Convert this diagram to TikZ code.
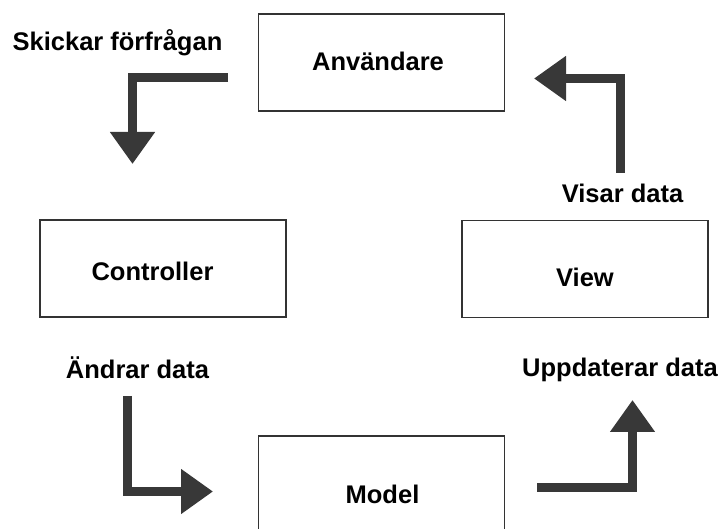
\documentclass[tikz,border=0pt]{standalone}
\usepackage{fontspec}
\setmainfont{Liberation Sans}
\usepackage{tikz}
\usetikzlibrary{arrows.meta}

\tikzset{
    box/.style={draw=black!80, line width=1.5pt, minimum width=246pt, minimum height=97pt, inner sep=0pt},
    flow/.style={draw=black!78, line width=9pt, line join=miter, -{Triangle[length=32pt,width=43pt]}},
    lbl/.style={anchor=base, inner sep=0pt}
}

\begin{document}
\begin{tikzpicture}[x=1pt,y=1pt,font=\fontsize{25.5}{30}\selectfont\bfseries]
    \useasboundingbox (0,0) rectangle (726,528);
    \clip (0,0) rectangle (726,528);

    % the four parts
    \node[box] (anv) at (381.5,465.5) {};
    \node[box] (ctrl) at (163,259.5) {};
    \node[box] (view) at (585,259) {};
    \node[box, minimum height=116pt] (model) at (381.5,34) {};

    \node[lbl] (anvtxt) at (378,457) {Användare};
    \node[lbl] (ctrltxt) at (152.5,247) {Controller};
    \node[lbl] (viewtxt) at (585,241) {View};
    \node[lbl] (modeltxt) at (382.5,25) {Model};

    % texts beside the arrows
    \node[lbl] (skickar) at (117.5,477) {Skickar förfrågan};
    \node[lbl] (visar) at (622.5,325) {Visar data};
    \node[lbl] (andrar) at (137.5,149) {Ändrar data};
    \node[lbl] (uppd) at (620,151) {Uppdaterar data};

    % arrow ends
    \coordinate (s1) at (228,450.5);
    \coordinate (s2) at (132.5,364);
    \coordinate (v1) at (620.5,355);
    \coordinate (v2) at (534,449.5);
    \coordinate (a1) at (127.5,132);
    \coordinate (a2) at (213,36.5);
    \coordinate (u1) at (537,40.5);
    \coordinate (u2) at (632.5,128);

    \draw[flow] (s1) -| (s2);
    \draw[flow] (v1) |- (v2);
    \draw[flow] (a1) |- (a2);
    \draw[flow] (u1) -| (u2);
\end{tikzpicture}
\end{document}
